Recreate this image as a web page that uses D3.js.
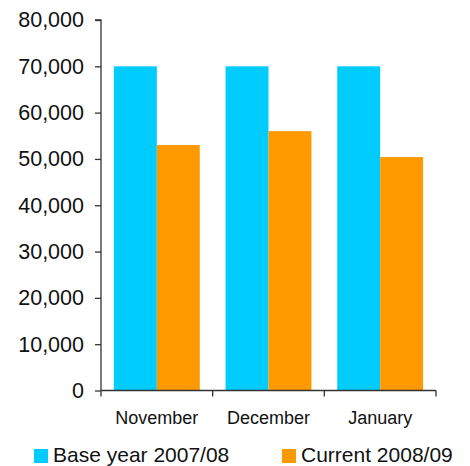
<!DOCTYPE html>
<html><head><meta charset="utf-8">
<script src="https://cdn.jsdelivr.net/npm/d3@7"></script>
<style>body{margin:0;background:#fff}svg{display:block}text{font-family:"Liberation Sans",Arial,sans-serif}</style>
</head><body>
<script>
const categories = ["November", "December", "January"];
const seriesNames = ["Base year 2007/08", "Current 2008/09"];
const baseYear = [70000, 70000, 70000];
const current = [53000, 56000, 50400];
const yTicks = [0, 10000, 20000, 30000, 40000, 50000, 60000, 70000, 80000];
const colors = ["#00CCFF", "#FF9900"];

(function () {
const W = 470, H = 466;
const svg = d3.select("body").append("svg").attr("width", W).attr("height", H);
const mLeft = 101, mRight = 436, mTop = 20, mBottom = 390.5;

const x = d3.scaleBand().domain(categories).range([mLeft, mRight]).paddingInner(0).paddingOuter(0);
const x1 = d3.scaleBand().domain(seriesNames).range([0, x.bandwidth()]).paddingOuter(0.3).paddingInner(0);
const y = d3.scaleLinear().domain([0, 80000]).range([mBottom, mTop]);

const data = categories.map((c, i) => ({cat: c, vals: [baseYear[i], current[i]]}));

const g = svg.append("g");
g.selectAll("g.grp").data(data).join("g")
  .attr("transform", d => `translate(${x(d.cat)},0)`)
  .selectAll("rect").data(d => d.vals.map((v, j) => ({v, j})))
  .join("rect")
  .attr("x", d => x1(seriesNames[d.j]))
  .attr("width", x1.bandwidth())
  .attr("y", d => y(d.v))
  .attr("height", d => y(0) - y(d.v))
  .attr("fill", d => colors[d.j]);

const fmt = d3.format(",");
const yAxis = svg.append("g").attr("transform", `translate(${mLeft},0)`)
  .call(d3.axisLeft(y).tickValues(yTicks).tickFormat(fmt).tickSize(6).tickPadding(11));
yAxis.select(".domain").attr("stroke", "#333").attr("stroke-width", 1.3).attr("d", `M-6,${mTop}H0V${mBottom}`);
yAxis.selectAll(".tick line").attr("stroke", "#333").attr("stroke-width", 1.3);
yAxis.selectAll(".tick text").attr("font-size", 21.5).attr("fill", "#111").attr("font-family", "Liberation Sans, Arial, sans-serif");

const xAxis = svg.append("g").attr("transform", `translate(0,${mBottom})`)
  .call(d3.axisBottom(x).tickSize(0).tickPadding(21));
xAxis.select(".domain").remove();
xAxis.append("path").attr("d", `M${mLeft},0H${mRight}`).attr("stroke", "#333").attr("stroke-width", 1.3).attr("fill", "none");
const boundaries = [mLeft, ...categories.map(c => x(c) + x.bandwidth())];
xAxis.selectAll("line.bt").data(boundaries).join("line").attr("class", "bt")
  .attr("x1", d => d).attr("x2", d => d).attr("y1", 0).attr("y2", 6)
  .attr("stroke", "#333").attr("stroke-width", 1.3);
xAxis.selectAll(".tick text").attr("font-size", 18).attr("fill", "#111").attr("font-family", "Liberation Sans, Arial, sans-serif");

const legendX = [34, 282];
const leg = svg.append("g");
seriesNames.forEach((s, i) => {
  leg.append("rect").attr("x", legendX[i]).attr("y", 449).attr("width", 14).attr("height", 14).attr("fill", colors[i]);
  leg.append("text").attr("x", legendX[i] + 19).attr("y", 462).attr("font-size", 21).attr("fill", "#111").text(s);
});
})();
</script>
</body></html>
